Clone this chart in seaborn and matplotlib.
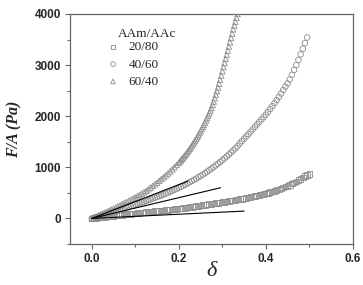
import pandas as pd
import seaborn as sns
import matplotlib.pyplot as plt
from matplotlib.ticker import MultipleLocator

# strain grid for the 20/80 and 40/60 gels
strain_a = [0.000, 0.005, 0.010, 0.015, 0.020, 0.025, 0.030, 0.035, 0.040, 0.045,
            0.050, 0.055, 0.060, 0.065, 0.070, 0.075, 0.080, 0.085, 0.090, 0.095,
            0.100, 0.105, 0.110, 0.115, 0.120, 0.125, 0.130, 0.135, 0.140, 0.145,
            0.150, 0.155, 0.160, 0.165, 0.170, 0.175, 0.180, 0.185, 0.190, 0.195,
            0.200, 0.205, 0.210, 0.215, 0.220, 0.225, 0.230, 0.235, 0.240, 0.245,
            0.250, 0.255, 0.260, 0.265, 0.270, 0.275, 0.280, 0.285, 0.290, 0.295,
            0.300, 0.305, 0.310, 0.315, 0.320, 0.325, 0.330, 0.335, 0.340, 0.345,
            0.350, 0.355, 0.360, 0.365, 0.370, 0.375, 0.380, 0.385, 0.390, 0.395,
            0.400, 0.405, 0.410, 0.415, 0.420, 0.425, 0.430, 0.435, 0.440, 0.445,
            0.450, 0.455, 0.460, 0.465, 0.470, 0.475, 0.480, 0.485, 0.490, 0.495,
            0.500]

# 20/80 (squares)
stress_20 = [0, 6, 12, 17, 22, 27, 32, 37, 42, 47,
             52, 57, 62, 67, 72, 77, 82, 86, 91, 95,
             100, 104, 109, 113, 118, 122, 127, 131, 136, 140,
             145, 149, 154, 158, 163, 167, 172, 177, 181, 186,
             191, 196, 202, 207, 213, 219, 225, 231, 238, 244,
             251, 257, 264, 270, 277, 284, 290, 297, 304, 311,
             318, 325, 332, 339, 346, 354, 361, 369, 377, 385,
             393, 401, 410, 419, 428, 437, 447, 457, 467, 478,
             489, 501, 513, 526, 540, 554, 569, 585, 602, 620,
             639, 659, 680, 702, 725, 749, 774, 800, 826, 850,
             870]

# 40/60 (circles), last point at 0.495
stress_40 = [0, 12, 25, 38, 51, 64, 77, 90, 103, 117,
             130, 144, 158, 172, 186, 200, 214, 228, 242, 256,
             270, 284, 299, 313, 328, 343, 358, 373, 389, 404,
             420, 436, 453, 470, 487, 505, 523, 542, 561, 580,
             600, 621, 642, 663, 685, 708, 731, 754, 778, 804,
             830, 857, 885, 914, 944, 975, 1006, 1038, 1071, 1105,
             1140, 1176, 1213, 1251, 1290, 1330, 1371, 1413, 1465, 1512,
             1560, 1605, 1650, 1697, 1744, 1792, 1840, 1888, 1936, 1983,
             2030, 2084, 2140, 2196, 2254, 2314, 2378, 2444, 2512, 2578,
             2640, 2720, 2810, 2905, 3000, 3100, 3210, 3320, 3430, 3540]

# 60/40 (triangles): coarse grid up to 0.2, finer after
strain_b = [0.000, 0.005, 0.010, 0.015, 0.020, 0.025, 0.030, 0.035, 0.040, 0.045,
            0.050, 0.055, 0.060, 0.065, 0.070, 0.075, 0.080, 0.085, 0.090, 0.095,
            0.100, 0.105, 0.110, 0.115, 0.120, 0.125, 0.130, 0.135, 0.140, 0.145,
            0.150, 0.155, 0.160, 0.165, 0.170, 0.175, 0.180, 0.185, 0.190, 0.195,
            0.200, 0.2025, 0.2050, 0.2075, 0.2100, 0.2125, 0.2150, 0.2175, 0.2200, 0.2225,
            0.2250, 0.2275, 0.2300, 0.2325, 0.2350, 0.2375, 0.2400, 0.2425, 0.2450, 0.2475,
            0.2500, 0.2525, 0.2550, 0.2575, 0.2600, 0.2625, 0.2650, 0.2675, 0.2700, 0.2725,
            0.2750, 0.2775, 0.2800, 0.2825, 0.2850, 0.2875, 0.2900, 0.2925, 0.2950, 0.2975,
            0.3000, 0.3025, 0.3050, 0.3075, 0.3100, 0.3125, 0.3150, 0.3175, 0.3200, 0.3225,
            0.3250, 0.3275, 0.3300, 0.3325, 0.3350]
stress_60 = [0, 19, 38, 57, 76, 95, 114, 133, 153, 172,
             192, 213, 235, 256, 278, 300, 322, 344, 366, 388,
             410, 435, 461, 487, 513, 540, 571, 603, 635, 667,
             700, 735, 770, 806, 843, 880, 920, 961, 1003, 1046,
             1090, 1115, 1140, 1166, 1192, 1218, 1245, 1272, 1300, 1330,
             1360, 1392, 1424, 1457, 1490, 1524, 1558, 1594, 1632, 1670,
             1710, 1750, 1791, 1833, 1876, 1920, 1965, 2012, 2060, 2110,
             2160, 2222, 2286, 2352, 2420, 2490, 2562, 2636, 2712, 2795,
             2880, 2960, 3040, 3120, 3200, 3282, 3364, 3446, 3530, 3615,
             3700, 3775, 3850, 3925, 4000]

# initial-slope lines (start, end)
line_x = [[0.0, 0.221], [0.0, 0.296], [0.0, 0.350]]
line_y = [[0, 730], [0, 600], [0, 143]]

labels = ["20/80", "40/60", "60/40"]
markers = ["s", "o", "^"]

sns.set_style("ticks")
fig, ax = plt.subplots(figsize=(3.63, 2.85), dpi=100)
fig.subplots_adjust(left=0.193, right=0.972, top=0.951, bottom=0.144)

series = [(strain_a, stress_20), (strain_a[:100], stress_40), (strain_b, stress_60)]
for (x, y), lab, m in zip(series, labels, markers):
    df = pd.DataFrame({"d": x, "s": y})
    sns.scatterplot(data=df, x="d", y="s", ax=ax, marker=m, s=16,
                    facecolors="none", edgecolor="#8c8c8c", linewidth=0.6,
                    label=lab, zorder=3)

for lx, ly in zip(line_x, line_y):
    sns.lineplot(x=lx, y=ly, ax=ax, color="black", linewidth=0.8, zorder=4)

ax.set_xlim(-0.05, 0.6)
ax.set_ylim(-500, 4000)
ax.xaxis.set_major_locator(MultipleLocator(0.2))
ax.xaxis.set_minor_locator(MultipleLocator(0.1))
ax.yaxis.set_major_locator(MultipleLocator(1000))
ax.yaxis.set_minor_locator(MultipleLocator(500))
ax.xaxis.set_major_formatter(plt.FormatStrFormatter("%.1f"))
ax.tick_params(which="both", direction="out", color="#666666", width=0.8)
ax.tick_params(which="major", length=3.5, labelsize=8.5, pad=3)
ax.tick_params(which="minor", length=2)
for lbl in ax.get_xticklabels() + ax.get_yticklabels():
    lbl.set_fontweight("bold")
    lbl.set_family("Liberation Sans")
for sp in ax.spines.values():
    sp.set_visible(True)
    sp.set_color("#666666")
    sp.set_linewidth(0.9)

ax.set_xlabel("δ", fontsize=16, fontstyle="italic", family="Liberation Serif",
              labelpad=-2)
ax.set_ylabel("F/A (Pa)", fontsize=11.5, fontweight="bold", fontstyle="italic",
              family="Liberation Serif", labelpad=9)

leg = ax.legend(loc="upper left", bbox_to_anchor=(0.11, 0.905),
                frameon=False, prop={"family": "Liberation Serif", "size": 9.5},
                handletextpad=0.7, labelspacing=0.38, borderaxespad=0,
                handlelength=1.0, markerscale=0.85)
ax.text(0.17, 0.915, "AAm/AAc", transform=ax.transAxes, ha="left", va="center",
        family="Liberation Serif", fontsize=9.5)

fig.savefig("out.png", dpi=100)
